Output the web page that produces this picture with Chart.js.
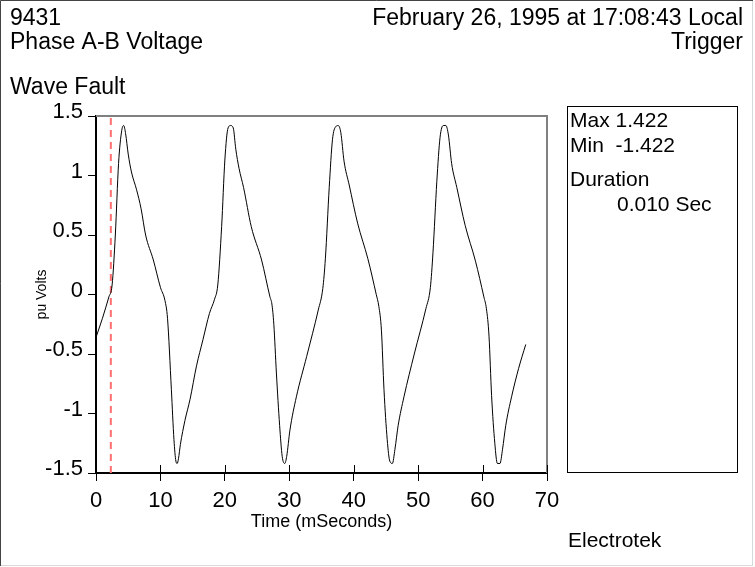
<!DOCTYPE html>
<html>
<head>
<meta charset="utf-8">
<script src="https://cdn.jsdelivr.net/npm/chart.js@4.4.1/dist/chart.umd.min.js"></script>
<style>
  html, body { margin: 0; padding: 0; background: #fff; }
  #wrap { width: 755px; height: 567px; }
</style>
</head>
<body>
<div id="wrap"><canvas id="waveChart" width="755" height="567"></canvas></div>
<script>
// waveform (time in ms, value in pu)
const timeMs = [
  0, 1.0, 2.0, 2.5, 3.0, 3.5, 4.0, 4.3, 4.6, 5.0,
  5.5, 6.3, 7.0, 7.7, 8.9, 10.0, 10.7, 11.1, 11.7, 12.1,
  12.4, 12.6, 12.8, 13.1, 13.8, 14.6, 15.6, 16.6, 17.6, 18.4,
  18.9, 19.5, 20.0, 20.5, 20.9, 21.3, 21.7, 22.2, 22.9, 24.1,
  25.7, 27.0, 27.3, 27.6, 28.0, 28.5, 28.9, 29.3, 29.6, 30.1,
  31.1, 32.7, 34.5, 35.2, 35.6, 36.2, 36.7, 37.2, 37.6, 38.0,
  38.5, 39.3, 40.6, 42.2, 43.5, 43.9, 44.3, 44.7, 45.2, 45.6,
  46.0, 46.4, 46.9, 47.8, 49.4, 51.2, 51.9, 52.3, 52.9, 53.4,
  53.9, 54.3, 54.7, 55.2, 56.0, 57.3, 58.9, 60.2, 60.6, 61.0,
  61.4, 61.9, 62.3, 62.7, 63.1, 63.6, 64.5, 65.6, 66.7
];
const puVolts = [
  -0.36, -0.2, -0.02, 0.08, 0.5, 1.1, 1.38, 1.42, 1.35, 1.18,
  1.03, 0.88, 0.72, 0.5, 0.29, 0.06, -0.05, -0.2, -0.8, -1.22,
  -1.4, -1.42, -1.38, -1.26, -1.06, -0.88, -0.6, -0.38, -0.16, -0.04,
  0.08, 0.57, 1.13, 1.4, 1.42, 1.4, 1.22, 1.06, 0.9, 0.57,
  0.29, -0.02, -0.08, -0.25, -0.66, -1.1, -1.36, -1.42, -1.36, -1.14,
  -0.86, -0.52, -0.13, 0.05, 0.3, 0.9, 1.3, 1.41, 1.42, 1.36,
  1.12, 0.92, 0.6, 0.3, 0.0, -0.1, -0.3, -0.8, -1.22, -1.4,
  -1.42, -1.3, -1.1, -0.86, -0.5, -0.12, 0.06, 0.35, 0.95, 1.32,
  1.42, 1.42, 1.34, 1.1, 0.9, 0.58, 0.28, -0.02, -0.12, -0.35,
  -0.85, -1.25, -1.42, -1.42, -1.3, -1.1, -0.86, -0.62, -0.42
];

// trigger marker (dashed red line)
const triggerTime = [2.3, 2.3];
const triggerLevel = [-1.5, 1.5];

const xTicks = [0, 10, 20, 30, 40, 50, 60, 70];
const yTicks = [-1.5, -1, -0.5, 0, 0.5, 1, 1.5];

const headerLeft = ['9431', 'Phase A-B Voltage', 'Wave Fault'];
const headerRight = ['February 26, 1995 at 17:08:43 Local', 'Trigger'];
const statLines = ['Max 1.422', 'Min  -1.422', 'Duration', '0.010 Sec'];
const footerText = 'Electrotek';

const FONT = "'Liberation Sans', Arial, sans-serif";

const decorPlugin = {
  id: 'decor',
  beforeDraw(chart) {
    const ctx = chart.ctx;
    ctx.save();
    ctx.fillStyle = '#fff';
    ctx.fillRect(0, 0, chart.width, chart.height);

    // outer frame
    ctx.strokeStyle = '#d8d8d8';
    ctx.lineWidth = 1;
    ctx.strokeRect(0.5, 0.5, 752, 565);
    ctx.strokeStyle = '#444';
    ctx.beginPath();
    ctx.moveTo(0.5, 566); ctx.lineTo(0.5, 0.5); ctx.lineTo(753, 0.5);
    ctx.stroke();

    // header text
    ctx.fillStyle = '#000';
    ctx.font = '23px ' + FONT;
    ctx.textBaseline = 'middle';
    ctx.textAlign = 'left';
    const leftY = [19, 43, 88];
    headerLeft.forEach((t, i) => ctx.fillText(t, 10, leftY[i]));
    ctx.textAlign = 'right';
    headerRight.forEach((t, i) => ctx.fillText(t, 743, leftY[i]));

    // stats box
    ctx.strokeStyle = '#000';
    ctx.strokeRect(567.5, 106.5, 170, 366);
    ctx.textAlign = 'left';
    ctx.font = '21px ' + FONT;
    const statX = [570, 570, 570, 617];
    const statY = [121, 146, 180, 205];
    statLines.forEach((t, i) => ctx.fillText(t, statX[i], statY[i]));

    ctx.fillText(footerText, 568, 541);
    ctx.restore();
  },
  afterDraw(chart) {
    const ctx = chart.ctx;
    const a = chart.chartArea;
    const xs = chart.scales.x;
    ctx.save();
    // top and right edges of the plot box
    ctx.strokeStyle = '#808080';
    ctx.lineWidth = 2;
    ctx.beginPath();
    ctx.moveTo(a.left, a.top); ctx.lineTo(a.right, a.top); ctx.lineTo(a.right, a.bottom);
    ctx.stroke();
    // x ticks also poke into the plot
    ctx.strokeStyle = '#000';
    ctx.lineWidth = 1;
    xTicks.forEach(v => {
      const px = Math.round(xs.getPixelForValue(v)) + 0.5;
      ctx.beginPath();
      ctx.moveTo(px, a.bottom);
      ctx.lineTo(px, a.bottom - 8);
      ctx.stroke();
    });
    ctx.restore();
  }
};

new Chart(document.getElementById('waveChart'), {
  type: 'line',
  data: {
    datasets: [
      {
        label: 'Phase A-B',
        data: timeMs.map((t, i) => ({ x: t, y: puVolts[i] })),
        borderColor: '#000',
        borderWidth: 1,
        pointRadius: 0,
        cubicInterpolationMode: 'monotone'
      },
      {
        label: 'Trigger',
        data: triggerTime.map((t, i) => ({ x: t, y: triggerLevel[i] })),
        borderColor: '#ff7070',
        borderWidth: 2,
        borderDash: [7, 5],
        pointRadius: 0
      }
    ]
  },
  options: {
    responsive: false,
    animation: false,
    devicePixelRatio: 1,
    layout: { padding: { left: 0, top: 116, right: 208, bottom: 0 } },
    plugins: { legend: { display: false }, tooltip: { enabled: false } },
    scales: {
      x: {
        type: 'linear',
        min: 0,
        max: 70,
        afterBuildTicks: s => { s.ticks = xTicks.map(v => ({ value: v })); },
        afterFit: s => { s.height = 94; },
        border: { color: '#000', width: 2 },
        grid: { drawOnChartArea: false, tickLength: 8, color: '#000' },
        ticks: { color: '#000', padding: 7, maxRotation: 0, font: { family: FONT, size: 22 } },
        title: {
          display: true,
          text: 'Time (mSeconds)',
          color: '#000',
          font: { family: FONT, size: 18 },
          padding: { top: 0, bottom: 34 }
        }
      },
      y: {
        min: -1.5,
        max: 1.5,
        afterBuildTicks: s => { s.ticks = yTicks.map(v => ({ value: v })); },
        afterFit: s => { s.width = 96; },
        border: { color: '#000', width: 2 },
        grid: { drawOnChartArea: false, tickLength: 8, color: '#000' },
        ticks: {
          color: '#000',
          padding: 5,
          labelOffset: -4,
          font: { family: FONT, size: 22 },
          callback: v => String(v)
        },
        title: {
          display: true,
          text: 'pu Volts',
          color: '#000',
          font: { family: FONT, size: 14 },
          padding: { top: 34, bottom: 0 }
        }
      }
    }
  },
  plugins: [decorPlugin]
});
</script>
</body>
</html>
